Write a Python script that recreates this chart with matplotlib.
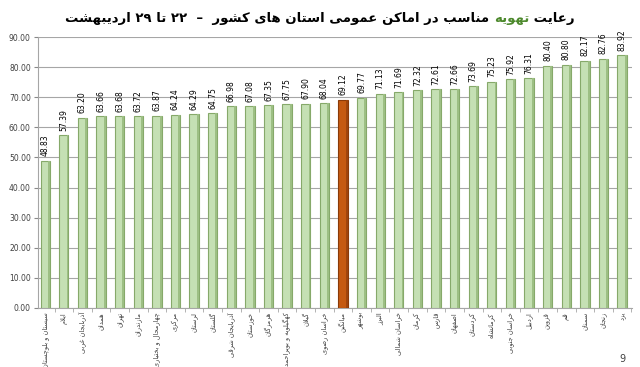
import re
import matplotlib
matplotlib.use("Agg")
import matplotlib.pyplot as plt
import numpy as np

provinces = [
    "سیستان و بلوچستان", "ایلام", "آذربایجان غربی", "همدان", "تهران", "مازندران",
    "چهارمحال و بختیاری", "مرکزی", "لرستان", "گلستان", "آذربایجان شرقی", "خوزستان",
    "هرمزگان", "کهگیلویه و بویراحمد", "گیلان", "خراسان رضوی", "میانگین", "بوشهر",
    "البرز", "خراسان شمالی", "کرمان", "فارس", "اصفهان", "کردستان", "کرمانشاه",
    "خراسان جنوبی", "اردبیل", "قزوین", "قم", "سمنان", "زنجان", "یزد",
]
values = [
    48.83, 57.39, 63.20, 63.66, 63.68, 63.72, 63.87, 64.24, 64.29, 64.75, 66.98, 67.08,
    67.35, 67.75, 67.90, 68.04, 69.12, 69.77, 71.13, 71.69, 72.32, 72.61, 72.66, 73.69,
    75.23, 75.92, 76.31, 80.40, 80.80, 82.17, 82.76, 83.92,
]
average_label = "میانگین"
title_parts = ["رعایت ", "تهویه", " مناسب در اماکن عمومی استان های کشور  –  ۲۲ تا ۲۹ اردیبهشت"]
title_colors = ["black", "#4e8a2e", "black"]
y_ticks = np.arange(0, 91, 10)

# minimal arabic/persian shaping (no reshaper lib available)
DUAL = {'ب': 0xFE8F, 'ت': 0xFE95, 'ث': 0xFE99, 'ج': 0xFE9D, 'ح': 0xFEA1, 'خ': 0xFEA5,
        'س': 0xFEB1, 'ش': 0xFEB5, 'ص': 0xFEB9, 'ض': 0xFEBD, 'ط': 0xFEC1, 'ظ': 0xFEC5,
        'ع': 0xFEC9, 'غ': 0xFECD, 'ف': 0xFED1, 'ق': 0xFED5, 'ل': 0xFEDD, 'م': 0xFEE1,
        'ن': 0xFEE5, 'ه': 0xFEE9, 'ی': 0xFBFC, 'ک': 0xFB8E, 'گ': 0xFB92, 'پ': 0xFB56,
        'چ': 0xFB7A}
RIGHT = {'ا': 0xFE8D, 'آ': 0xFE81, 'د': 0xFEA9, 'ذ': 0xFEAB, 'ر': 0xFEAD, 'ز': 0xFEAF,
         'و': 0xFEED, 'ژ': 0xFB8A}


def shape(text):
    out = []
    i = 0
    n = len(text)
    while i < n:
        c = text[i]
        prev_joins = i > 0 and text[i - 1] in DUAL
        nxt = text[i + 1] if i + 1 < n else ''
        if c == 'ل' and nxt in ('ا', 'آ'):
            base = 0xFEFB if nxt == 'ا' else 0xFEF5
            out.append(chr(base + (1 if prev_joins else 0)))
            i += 2
            continue
        if c in DUAL:
            next_joins = nxt in DUAL or nxt in RIGHT
            off = {(False, False): 0, (True, False): 1, (False, True): 2, (True, True): 3}[(prev_joins, next_joins)]
            out.append(chr(DUAL[c] + off))
        elif c in RIGHT:
            out.append(chr(RIGHT[c] + (1 if prev_joins else 0)))
        else:
            out.append(c)
        i += 1
    return ''.join(out)


def rtl(text):
    s = shape(text)
    parts = re.findall(r'[0-9\u06F0-\u06F9]+|[^0-9\u06F0-\u06F9]+', s)
    return ''.join(p if p[0].isdigit() else p[::-1] for p in reversed(parts))


plt.rcParams['font.family'] = ['DejaVu Sans']

fig = plt.figure(figsize=(6.4, 3.67), dpi=100)
ax = fig.add_axes([0.059, 0.161, 0.929, 0.738])

x = np.arange(len(values))
colors = ['#c55a11' if p == average_label else '#c5e0b4' for p in provinces]
edges = ['#8a3a08' if p == average_label else '#86a96a' for p in provinces]
ax.bar(x, values, width=0.5, color=colors, edgecolor=edges, linewidth=0.8, zorder=3)
# darker side strip for a bit of depth
side = ['#a0450c' if p == average_label else '#9dbf84' for p in provinces]
ax.bar(x + 0.2, values, width=0.1, color=side, linewidth=0, zorder=4)

for xi, v in zip(x, values):
    ax.text(xi, v + 1.5, f"{v:.2f}", rotation=90, ha='center', va='bottom',
            fontsize=5.5, color='black', zorder=5)

ax.set_xlim(-0.4, 31.55)
ax.set_ylim(0, 90)
ax.set_yticks(y_ticks)
ax.set_yticklabels([f"{t:.2f}" for t in y_ticks], fontsize=5.5, color='#404040')
ax.set_xticks(x)
ax.set_xticklabels([rtl(p) for p in provinces], rotation=90, fontsize=4.8, color='#404040')
ax.set_xticks(x + 0.5, minor=True)
ax.tick_params(axis='x', which='major', length=0, pad=3)
ax.tick_params(axis='x', which='minor', length=3, color='#a6a6a6')
ax.tick_params(axis='y', length=3, color='#888888', pad=2)
ax.grid(axis='y', color='#a6a6a6', linewidth=0.8, zorder=0)
for s in ['top', 'right']:
    ax.spines[s].set_visible(False)
ax.spines['left'].set_color('#a6a6a6')
ax.spines['bottom'].set_color('#a6a6a6')

# title drawn right to left so one word can be green
pieces = []
prev = None
for part, col in zip(title_parts, title_colors):
    if prev is None:
        prev = fig.text(0.9, 0.94, rtl(part), ha='right', va='baseline',
                        fontsize=9.5, fontweight='bold', color=col)
    else:
        prev = ax.annotate(rtl(part), xy=(0, 0), xycoords=prev, ha='right', va='bottom',
                           fontsize=9.5, fontweight='bold', color=col, annotation_clip=False)
    pieces.append(prev)

# recenter the whole title
renderer = fig.canvas.get_renderer()
left = pieces[-1].get_window_extent(renderer).x0
right = pieces[0].get_window_extent(renderer).x1
width = (right - left) / fig.bbox.width
pieces[0].set_x(0.5 + width / 2)

fig.text(0.972, 0.013, "9", fontsize=7, color='#404040', ha='center')

fig.savefig("out.png", dpi=100)
